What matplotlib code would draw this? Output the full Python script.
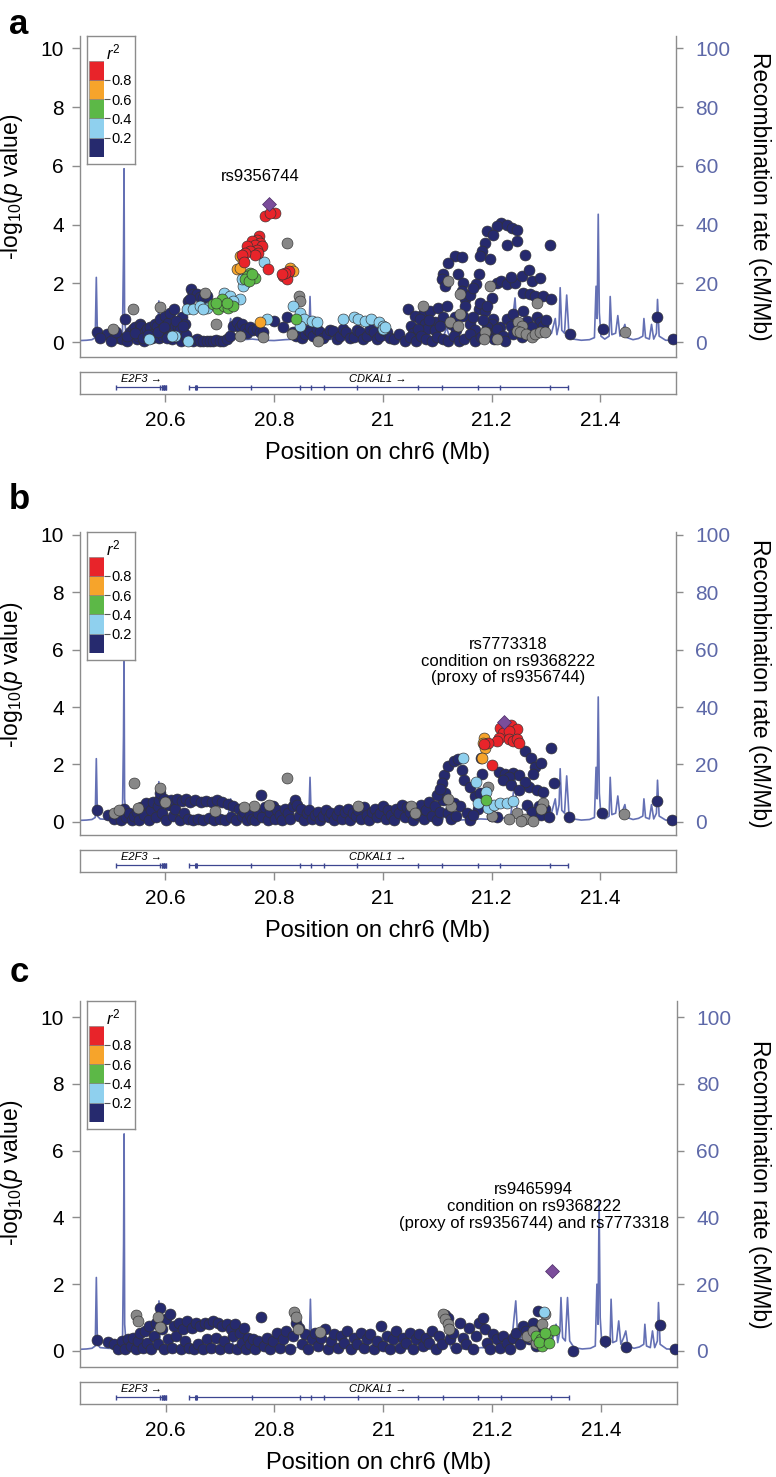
import matplotlib
matplotlib.use('Agg')
import matplotlib.pyplot as plt

W, H = 776, 1477
plt.rcParams['font.family'] = ['Liberation Sans', 'DejaVu Sans']
plt.rcParams['mathtext.fontset'] = 'custom'
plt.rcParams['mathtext.rm'] = 'Liberation Sans'
plt.rcParams['mathtext.it'] = 'Liberation Sans:italic'

XLIM = (20.443, 21.539)
x_ticks = [20.6, 20.8, 21.0, 21.2, 21.4]
x_tick_labels = ['20.6', '20.8', '21', '21.2', '21.4']
p_ticks = [0, 2, 4, 6, 8, 10]
rec_ticks = [0, 20, 40, 60, 80, 100]

r2_bins = [0.0, 0.2, 0.4, 0.6, 0.8, 1.0]
r2_colors = ['#262a6e', '#8fd0ee', '#5cb847', '#f6a42b', '#e8242a']
grey_col = '#878787'
index_col = '#7b4d9b'
rec_col = '#6470b4'
gene_col = '#3d4690'

# recombination rate (cM/Mb)
rec_pos = [20.443, 20.455, 20.465, 20.471, 20.473, 20.475, 20.480, 20.495, 20.510, 20.521,
           20.523, 20.524, 20.525, 20.528, 20.540, 20.555, 20.570, 20.580, 20.586, 20.588,
           20.590, 20.600, 20.615, 20.630, 20.645, 20.660, 20.680, 20.700, 20.715, 20.720,
           20.724, 20.740, 20.760, 20.780, 20.800, 20.820, 20.840, 20.855, 20.864, 20.866,
           20.868, 20.880, 20.900, 20.920, 20.940, 20.960, 20.980, 21.000, 21.020, 21.026,
           21.032, 21.050, 21.070, 21.090, 21.110, 21.117, 21.124, 21.140, 21.160, 21.180,
           21.200, 21.220, 21.235, 21.243, 21.247, 21.260, 21.270, 21.275, 21.280, 21.290,
           21.300, 21.310, 21.317, 21.320, 21.324, 21.326, 21.329, 21.334, 21.338, 21.342,
           21.350, 21.365, 21.380, 21.389, 21.392, 21.394, 21.396, 21.398, 21.401, 21.408,
           21.416, 21.418, 21.421, 21.428, 21.432, 21.436, 21.441, 21.445, 21.449, 21.460,
           21.470, 21.478, 21.480, 21.483, 21.490, 21.494, 21.498, 21.503, 21.505, 21.508,
           21.520, 21.539]
rec_rate_ab = [0.5, 0.6, 0.8, 1.5, 22, 2.0, 1.0, 0.8, 0.7, 1.5,
               30, 59, 8, 1.2, 0.6, 0.5, 0.8, 1.0, 3, 14,
               2, 0.8, 0.5, 0.6, 0.5, 0.8, 1.0, 1.2, 1.5, 8,
               1.5, 0.8, 1.0, 0.6, 0.5, 0.8, 1.0, 1.5, 3, 15.5,
               3, 1.2, 0.8, 1.5, 2.0, 1.2, 0.8, 0.6, 0.8, 4,
               0.8, 0.5, 0.6, 0.5, 0.8, 5, 0.8, 0.6, 0.8, 1.0,
               0.8, 1.2, 2.0, 15, 3, 5, 2, 6, 2.5, 4,
               1.5, 3, 8, 2.5, 6, 18.5, 4, 3, 16, 3,
               1.0, 0.6, 0.8, 1.5, 19, 8, 43.5, 10, 2, 1.0,
               2, 15.5, 2.5, 3, 9, 2, 4, 6, 1.5, 0.8,
               1.2, 2, 8, 1.5, 1.0, 6, 1.0, 3, 14.5, 2,
               0.6, 0.5]
rec_rate_c = [0.5, 0.6, 0.8, 1.5, 22, 2.0, 1.0, 0.8, 0.7, 1.5,
              32, 65, 8, 1.2, 0.6, 0.5, 0.8, 1.0, 3, 15,
              2, 0.8, 0.5, 0.6, 0.5, 0.8, 1.0, 1.2, 1.5, 8,
              1.5, 0.8, 1.0, 0.6, 0.5, 0.8, 1.0, 1.5, 3, 15.5,
              3, 1.2, 0.8, 1.5, 2.0, 1.2, 0.8, 0.6, 0.8, 4,
              0.8, 0.5, 0.6, 0.5, 0.8, 5, 0.8, 0.6, 0.8, 1.0,
              0.8, 1.2, 2.0, 15, 3, 5, 2, 6, 2.5, 4,
              1.5, 3, 8, 2.5, 6, 16, 4, 3, 16, 3,
              1.0, 0.6, 0.8, 1.5, 20, 8, 45, 10, 2, 1.0,
              2, 15.5, 2.5, 3, 9, 2, 4, 6, 1.5, 0.8,
              1.2, 2, 8, 1.5, 1.0, 6, 1.0, 3, 14.5, 2,
              0.6, 0.5]

# genes
genes = ['E2F3', 'CDKAL1']
gene_start = [20.510, 20.643]
gene_end = [20.601, 21.340]
gene_label_x = [20.556, 20.990]
e2f3_exons = [20.510, 20.590, 20.594, 20.598, 20.601]
cdkal1_exons = [20.643, 20.656, 20.758, 20.847, 20.867, 20.891, 20.953, 21.064,
                21.109, 21.174, 21.216, 21.308, 21.340]

# ---------------- panel a -----------------
a_navy = [(20.475, 0.33), (20.492, 0.28), (20.507, 0.22), (20.515, 0.15), (20.520, 0.10),
          (20.526, 0.78), (20.529, 0.05), (20.535, 0.33), (20.540, 0.45), (20.544, 0.50),
          (20.548, 0.10), (20.550, 0.21), (20.553, 0.60), (20.556, 0.55), (20.560, 0.05),
          (20.563, 0.33), (20.566, 0.45), (20.572, 0.50), (20.575, 0.12), (20.578, 0.27),
          (20.581, 0.60), (20.584, 0.55), (20.588, 0.15), (20.590, 0.78), (20.593, 0.44),
          (20.596, 0.20), (20.599, 0.89), (20.602, 0.33), (20.605, 0.65), (20.609, 1.00),
          (20.612, 0.10), (20.615, 1.12), (20.618, 0.55), (20.621, 0.30), (20.624, 0.50),
          (20.628, 0.05), (20.630, 0.84), (20.633, 0.33), (20.636, 0.60), (20.640, 0.10),
          (20.480, 0.15), (20.500, 0.05), (20.510, 0.35), (20.530, 0.20), (20.545, 0.30),
          (20.558, 0.15), (20.568, 0.25), (20.586, 0.35), (20.597, 0.50), (20.607, 0.20),
          (20.620, 0.70), (20.626, 0.40), (20.638, 0.25), (20.632, 0.55), (20.603, 0.12),
          (20.648, 1.80), (20.651, 1.63), (20.642, 1.40), (20.658, 1.63), (20.664, 1.55),
          (20.670, 1.50), (20.676, 1.58), (20.645, 1.45),
          (20.650, 0.05), (20.658, 0.10), (20.664, 0.045), (20.670, 0.05), (20.676, 0.045),
          (20.682, 0.05), (20.688, 0.045), (20.694, 0.06), (20.700, 0.045), (20.706, 0.05),
          (20.713, 0.10), (20.719, 0.21), (20.725, 0.55), (20.731, 0.67), (20.737, 0.50),
          (20.740, 0.61), (20.746, 0.44), (20.750, 0.30), (20.756, 0.50), (20.762, 0.40),
          (20.768, 0.44), (20.774, 0.35), (20.780, 0.33), (20.799, 0.72), (20.823, 0.84),
          (20.817, 0.50), (20.835, 0.33), (20.841, 0.21), (20.848, 0.38), (20.852, 0.15),
          (20.857, 0.27), (20.862, 0.40), (20.866, 0.33), (20.872, 0.21), (20.878, 0.45),
          (20.884, 0.33), (20.890, 0.15), (20.897, 0.27), (20.903, 0.40), (20.909, 0.38),
          (20.915, 0.10), (20.921, 0.21), (20.927, 0.45), (20.933, 0.33), (20.940, 0.15),
          (20.946, 0.16), (20.952, 0.40), (20.958, 0.33), (20.964, 0.10), (20.970, 0.21),
          (20.976, 0.45), (20.983, 0.33), (20.989, 0.10), (20.995, 0.21), (21.001, 0.40),
          (21.007, 0.33), (21.013, 0.15),
          (21.218, 4.06), (21.209, 3.94), (21.228, 4.00), (21.237, 3.88), (21.246, 3.83),
          (21.191, 3.77), (21.203, 3.66), (21.188, 3.38), (21.228, 3.32), (21.246, 3.44),
          (21.182, 3.10), (21.197, 2.81), (21.179, 2.93), (21.261, 2.95), (21.307, 3.32),
          (21.133, 2.93), (21.145, 2.90), (21.120, 2.70), (21.111, 2.30), (21.108, 2.14),
          (21.114, 1.91), (21.139, 2.30), (21.148, 2.02), (21.145, 1.74), (21.151, 1.46),
          (21.176, 2.30), (21.172, 1.97), (21.209, 2.02), (21.218, 2.08), (21.228, 1.97),
          (21.243, 2.02), (21.274, 2.08), (21.289, 2.19), (21.258, 1.68), (21.270, 1.63),
          (21.280, 1.57), (21.295, 1.57), (21.310, 1.46), (21.200, 1.51), (21.176, 1.12),
          (21.188, 1.06), (21.179, 1.34), (21.191, 1.23), (21.203, 0.78), (21.074, 0.95),
          (21.087, 1.06), (21.102, 1.17), (21.117, 1.23), (21.047, 1.12), (21.059, 0.89),
          (21.068, 0.78), (21.077, 0.61), (21.096, 0.67), (21.052, 0.55), (21.081, 0.44),
          (21.111, 0.84), (21.133, 0.84), (21.148, 0.89), (21.151, 1.23), (21.200, 0.61),
          (21.191, 0.50), (21.206, 0.33), (21.215, 0.50), (21.228, 0.78), (21.240, 0.95),
          (21.258, 1.06), (21.284, 0.84), (21.289, 0.67), (21.295, 0.55), (21.344, 0.27),
          (21.405, 0.44), (21.504, 0.84), (21.533, 0.10),
          (21.055, 0.30), (21.065, 0.45), (21.085, 0.75), (21.095, 0.40), (21.105, 0.55),
          (21.125, 0.60), (21.135, 0.40), (21.160, 0.60), (21.165, 0.85), (21.170, 0.40),
          (21.185, 0.75), (21.210, 0.45), (21.220, 0.20), (21.235, 0.55), (21.250, 0.45),
          (21.265, 0.70), (21.275, 0.50), (21.300, 0.75), (21.160, 1.60), (21.165, 1.85),
          (21.235, 2.20), (21.255, 2.25), (21.268, 2.45),
          (21.020, 0.10), (21.030, 0.27), (21.040, 0.05), (21.050, 0.16), (21.060, 0.05),
          (21.070, 0.21), (21.080, 0.10), (21.090, 0.05), (21.100, 0.16), (21.110, 0.10),
          (21.120, 0.05), (21.130, 0.21), (21.140, 0.05), (21.150, 0.10), (21.160, 0.27),
          (21.170, 0.05), (21.180, 0.16), (21.190, 0.33), (21.205, 0.10), (21.225, 0.05),
          (21.240, 0.27), (21.255, 0.16)]
a_grey = [(20.541, 1.12), (20.590, 1.20), (20.673, 1.68), (20.694, 0.61), (20.845, 1.57),
          (20.848, 1.40), (20.832, 0.27), (20.881, 0.045), (20.779, 0.16), (20.737, 0.21),
          (20.824, 3.38), (20.504, 0.44), (21.197, 1.91), (21.142, 1.63), (21.123, 0.67),
          (21.142, 0.95), (21.139, 0.55), (21.188, 0.33), (21.186, 0.10), (21.209, 0.10),
          (21.249, 0.67), (21.255, 0.55), (21.246, 0.38), (21.252, 0.33), (21.264, 0.27),
          (21.274, 0.16), (21.280, 0.27), (21.289, 0.33), (21.298, 0.35), (21.445, 0.35),
          (21.120, 2.08), (21.283, 1.34), (21.074, 1.23)]
a_lblue = [(20.781, 2.72), (20.746, 2.02), (20.742, 1.91), (20.740, 2.14), (20.639, 1.12),
           (20.651, 1.12), (20.664, 1.23), (20.676, 1.17), (20.670, 1.12), (20.707, 1.68),
           (20.719, 1.57), (20.737, 1.46), (20.725, 1.40), (20.618, 0.21), (20.569, 0.10),
           (20.642, 0.045), (20.612, 0.21), (20.835, 1.23), (20.848, 1.00), (20.854, 0.78),
           (20.869, 0.72), (20.878, 0.67), (20.786, 0.78), (20.848, 0.55), (20.926, 0.78),
           (20.946, 0.84), (20.955, 0.78), (20.967, 0.72), (20.979, 0.78), (20.992, 0.67),
           (21.001, 0.55), (21.000, 0.44), (21.003, 0.50)]
a_green = [(20.756, 2.36), (20.750, 2.25), (20.765, 2.19), (20.746, 2.14), (20.753, 2.08),
           (20.759, 2.30), (20.688, 1.29), (20.697, 1.12), (20.707, 1.23), (20.716, 1.17),
           (20.725, 1.23), (20.704, 1.46), (20.694, 1.34), (20.713, 1.34), (20.840, 0.78)]
a_orange = [(20.737, 2.93), (20.742, 2.76), (20.731, 2.47), (20.737, 2.53), (20.774, 0.67),
            (20.829, 2.53), (20.835, 2.42), (20.826, 2.36)]
a_red = [(20.783, 4.28), (20.801, 4.40), (20.792, 4.40), (20.773, 3.60), (20.768, 3.49),
         (20.759, 3.43), (20.774, 3.38), (20.765, 3.32), (20.750, 3.27), (20.777, 3.27),
         (20.768, 3.15), (20.756, 3.10), (20.771, 3.04), (20.765, 2.98), (20.746, 3.04),
         (20.740, 2.98), (20.745, 2.72), (20.788, 2.50), (20.817, 2.25), (20.823, 2.14),
         (20.828, 2.42), (20.820, 2.36), (20.814, 2.30)]
a_index = (20.791, 4.70)
a_label = 'rs9356744'
a_label_xy = (20.774, 5.64)

# ---------------- panel b -----------------
b_navy = [(20.475, 0.41), (20.494, 0.23), (20.505, 0.10), (20.512, 0.30), (20.518, 0.05),
          (20.524, 0.43), (20.528, 0.15), (20.533, 0.30), (20.538, 0.05), (20.543, 0.20),
          (20.548, 0.35), (20.552, 0.08), (20.556, 0.50), (20.560, 0.25), (20.565, 0.65),
          (20.569, 0.05), (20.573, 0.40), (20.578, 0.70), (20.582, 0.15), (20.586, 0.55),
          (20.588, 0.77), (20.591, 1.00), (20.594, 0.30), (20.598, 0.80), (20.602, 0.05),
          (20.606, 0.60), (20.610, 0.75), (20.614, 0.20), (20.618, 0.45), (20.622, 0.78),
          (20.626, 0.05), (20.630, 0.72), (20.634, 0.30), (20.638, 0.78), (20.642, 0.10),
          (20.646, 0.70), (20.650, 0.05), (20.655, 0.75), (20.660, 0.10), (20.665, 0.70),
          (20.670, 0.05), (20.675, 0.72), (20.680, 0.12), (20.685, 0.68), (20.690, 0.05),
          (20.695, 0.75), (20.700, 0.10), (20.705, 0.70), (20.710, 0.05), (20.715, 0.62),
          (20.720, 0.15), (20.725, 0.55), (20.730, 0.05), (20.735, 0.45), (20.740, 0.20),
          (20.745, 0.35), (20.750, 0.05), (20.755, 0.25), (20.760, 0.10), (20.765, 0.05),
          (20.770, 0.30), (20.775, 0.94), (20.778, 0.15), (20.783, 0.50), (20.788, 0.05),
          (20.792, 0.35), (20.797, 0.55), (20.802, 0.10), (20.806, 0.40), (20.811, 0.25),
          (20.815, 0.05), (20.820, 0.45), (20.825, 0.30), (20.830, 0.10), (20.835, 0.55),
          (20.838, 0.77), (20.842, 0.60), (20.846, 0.20), (20.850, 0.45), (20.855, 0.05),
          (20.860, 0.30), (20.865, 0.40), (20.870, 0.10), (20.875, 0.25), (20.880, 0.35),
          (20.885, 0.05), (20.890, 0.20), (20.895, 0.40), (20.900, 0.15), (20.905, 0.30),
          (20.910, 0.05), (20.915, 0.25), (20.920, 0.40), (20.925, 0.10), (20.930, 0.35),
          (20.935, 0.45), (20.940, 0.05), (20.945, 0.30), (20.950, 0.20), (20.955, 0.40),
          (20.960, 0.10), (20.965, 0.50), (20.970, 0.25), (20.975, 0.05), (20.980, 0.35),
          (20.985, 0.45), (20.990, 0.15), (20.995, 0.30), (21.000, 0.55), (21.005, 0.10),
          (21.010, 0.40), (21.015, 0.25), (21.020, 0.05), (21.025, 0.45), (21.030, 0.30),
          (21.035, 0.60), (21.040, 0.15), (21.045, 0.50), (21.050, 0.35), (21.055, 0.05),
          (21.060, 0.45), (21.065, 0.25), (21.070, 0.60), (21.075, 0.10), (21.080, 0.40),
          (21.085, 0.70), (21.090, 0.20), (21.095, 0.55), (21.100, 0.05), (21.105, 0.35),
          (21.110, 0.75),
          (21.112, 1.62), (21.108, 1.34), (21.119, 1.96), (21.131, 2.13), (21.138, 2.19),
          (21.145, 1.79), (21.149, 1.45), (21.115, 1.00), (21.131, 0.66), (21.142, 0.54),
          (21.154, 0.32), (21.180, 2.24), (21.183, 1.68), (21.175, 0.43), (21.213, 1.73),
          (21.224, 1.68), (21.239, 1.70), (21.250, 1.62), (21.231, 1.56), (21.220, 1.45),
          (21.261, 2.47), (21.272, 2.24), (21.280, 1.90), (21.291, 2.05), (21.310, 2.58),
          (21.314, 1.34), (21.276, 1.68), (21.269, 1.22), (21.284, 1.11), (21.295, 1.05),
          (21.287, 0.54), (21.299, 0.43), (21.343, 0.15), (21.403, 0.29), (21.504, 0.71),
          (21.532, 0.07), (21.261, 1.39), (21.235, 1.28), (21.250, 1.11), (21.120, 0.30),
          (21.125, 0.10), (21.135, 0.20), (21.160, 0.05), (21.165, 0.25), (21.170, 0.90),
          (21.178, 1.00), (21.200, 0.20), (21.210, 0.15), (21.265, 0.60), (21.275, 0.35),
          (21.290, 0.25), (21.305, 0.15), (21.160, 1.20), (21.100, 0.95), (21.105, 1.15)]
b_grey = [(20.543, 1.34), (20.505, 0.30), (20.515, 0.40), (20.591, 1.17), (20.550, 0.49),
          (20.823, 1.54), (20.763, 0.54), (20.692, 0.37), (20.600, 0.70), (20.745, 0.50),
          (20.790, 0.60), (20.955, 0.55), (21.052, 0.54), (21.059, 0.32), (21.126, 0.54),
          (21.120, 0.80), (21.194, 1.22), (21.246, 0.32), (21.261, 0.09), (21.276, 0.03),
          (21.295, 0.66), (21.291, 0.43), (21.254, 0.03), (21.231, 0.11), (21.201, 0.20),
          (21.444, 0.26)]
b_lblue = [(21.147, 2.21), (21.171, 1.39), (21.190, 1.05), (21.175, 0.66), (21.194, 0.49),
           (21.205, 0.60), (21.216, 0.66), (21.228, 0.66), (21.239, 0.71)]
b_green = [(21.190, 0.77)]
b_orange = [(21.186, 2.92), (21.187, 2.58), (21.183, 2.24), (21.184, 2.75)]
b_red = [(21.216, 3.26), (21.228, 3.32), (21.235, 3.37), (21.246, 3.24), (21.220, 3.09),
         (21.231, 3.15), (21.213, 2.92), (21.209, 2.81), (21.194, 2.75), (21.186, 2.70),
         (21.231, 2.87), (21.239, 2.81), (21.246, 2.87), (21.250, 2.75), (21.201, 1.98)]
b_index = (21.222, 3.49)
b_label = 'rs7773318\ncondition on rs9368222\n(proxy of rs9356744)'
b_label_xy = (21.231, 5.60)

# ---------------- panel c -----------------
c_navy = [(20.475, 0.32), (20.494, 0.28), (20.505, 0.20), (20.512, 0.05), (20.520, 0.30),
          (20.526, 0.05), (20.531, 0.35), (20.536, 0.15), (20.541, 0.40), (20.545, 0.05),
          (20.550, 0.30), (20.554, 0.55), (20.558, 0.10), (20.562, 0.60), (20.566, 0.25),
          (20.570, 0.75), (20.574, 0.05), (20.578, 0.45), (20.582, 0.85), (20.586, 0.20),
          (20.590, 1.30), (20.593, 0.65), (20.597, 0.05), (20.600, 0.95), (20.604, 0.35),
          (20.608, 1.12), (20.612, 0.10), (20.616, 0.75), (20.620, 0.45), (20.624, 0.85),
          (20.628, 0.05), (20.632, 0.65), (20.636, 0.30), (20.640, 0.90), (20.644, 0.10),
          (20.648, 0.70), (20.652, 0.05), (20.656, 0.85), (20.660, 0.20), (20.664, 0.75),
          (20.668, 0.05), (20.672, 0.85), (20.676, 0.35), (20.680, 0.80), (20.684, 0.10),
          (20.688, 0.90), (20.692, 0.40), (20.696, 0.85), (20.700, 0.05), (20.704, 0.75),
          (20.708, 0.30), (20.712, 0.80), (20.716, 0.10), (20.720, 0.65), (20.724, 0.45),
          (20.728, 0.80), (20.732, 0.05), (20.736, 0.55), (20.740, 0.25), (20.744, 0.70),
          (20.748, 0.05), (20.752, 0.40), (20.756, 0.20), (20.760, 0.35), (20.765, 0.05),
          (20.770, 0.30), (20.776, 1.02), (20.780, 0.15), (20.786, 0.40), (20.792, 0.05),
          (20.798, 0.30), (20.804, 0.55), (20.810, 0.10), (20.816, 0.35), (20.822, 0.60),
          (20.828, 0.05), (20.834, 0.45), (20.840, 0.85), (20.845, 0.70), (20.850, 0.20),
          (20.856, 0.50), (20.862, 0.05), (20.868, 0.35), (20.874, 0.55), (20.880, 0.15),
          (20.886, 0.40), (20.892, 0.65), (20.898, 0.05), (20.904, 0.30), (20.910, 0.50),
          (20.916, 0.10), (20.922, 0.45), (20.928, 0.25), (20.934, 0.60), (20.940, 0.05),
          (20.946, 0.40), (20.952, 0.20), (20.958, 0.55), (20.964, 0.10), (20.970, 0.35),
          (20.976, 0.50), (20.982, 0.05), (20.988, 0.30), (20.995, 0.75), (21.000, 0.15),
          (21.006, 0.45), (21.012, 0.05), (21.018, 0.35), (21.024, 0.60), (21.030, 0.10),
          (21.036, 0.40), (21.042, 0.25), (21.048, 0.55), (21.054, 0.05), (21.060, 0.35),
          (21.066, 0.50), (21.072, 0.15), (21.078, 0.40), (21.084, 0.25), (21.090, 0.60),
          (21.096, 0.05), (21.102, 0.45), (21.108, 0.20), (21.114, 1.08), (21.118, 1.00),
          (21.122, 0.35), (21.128, 0.55), (21.134, 0.10), (21.140, 0.85), (21.146, 0.40),
          (21.152, 0.20), (21.158, 0.70), (21.164, 0.05), (21.170, 0.45), (21.176, 0.85),
          (21.182, 1.00), (21.186, 0.65), (21.190, 0.25), (21.196, 0.05), (21.202, 0.50),
          (21.208, 0.35), (21.214, 0.10), (21.220, 0.45), (21.226, 0.25), (21.232, 0.05),
          (21.238, 0.40), (21.244, 0.55), (21.250, 0.20), (21.256, 0.75), (21.262, 0.60),
          (21.268, 0.35), (21.274, 0.85), (21.280, 0.15), (21.283, 1.20), (21.287, 0.70),
          (21.348, 0.0), (21.407, 0.30), (21.446, 0.13), (21.508, 0.79), (21.535, 0.05)]
c_grey = [(20.546, 1.07), (20.549, 0.91), (20.587, 1.02), (20.590, 0.71), (20.835, 1.17),
          (20.839, 1.02), (20.843, 0.66), (20.884, 0.56), (21.110, 1.12), (21.114, 0.96),
          (21.118, 0.81), (21.121, 0.66), (21.296, 1.12), (21.292, 0.81), (21.270, 0.41),
          (21.281, 0.25), (21.263, 0.46), (21.275, 0.60)]
c_lblue = [(21.294, 1.17)]
c_green = [(21.281, 0.45), (21.289, 0.35), (21.300, 0.50), (21.313, 0.62), (21.292, 0.15),
           (21.285, 0.28), (21.304, 0.25), (21.296, 0.55)]
c_orange = []
c_red = []
c_index = (21.309, 2.39)
c_label = 'rs9465994\ncondition on rs9368222\n(proxy of rs9356744) and rs7773318'
c_label_xy = (21.276, 4.33)

fig = plt.figure(figsize=(W / 100, H / 100), dpi=100)


def add_ax(x0, y0, x1, y1):
    return fig.add_axes([x0 / W, 1 - y1 / H, (x1 - x0) / W, (y1 - y0) / H])


def draw_panel(letter, top, bottom, right, ylim, rec_rate, groups, index_pt, label, label_xy,
               letter_y):
    left = 80
    ax = add_ax(left, top, right, bottom)
    ax2 = ax.twinx()
    ax.set_zorder(ax2.get_zorder() + 1)
    ax.patch.set_visible(False)

    ax2.plot(rec_pos, rec_rate, color=rec_col, lw=1.2)
    ax2.set_ylim(ylim[0] * 10, ylim[1] * 10)
    ax2.set_yticks(rec_ticks)
    ax2.tick_params(axis='y', colors='#8c8c8c', labelcolor='#5d68a8', labelsize=15,
                    length=5, width=1, pad=9)
    ax2.set_ylabel('Recombination rate (cM/Mb)', fontsize=16.5, rotation=270, va='center')
    ax2.yaxis.set_label_coords((760 - left) / (right - left), 0.5)

    for (pts, col) in groups:
        if pts:
            xs = [p[0] for p in pts]
            ys = [p[1] for p in pts]
            ax.scatter(xs, ys, s=62, c=col, edgecolors='#333333', linewidths=0.45, zorder=3)
    ax.scatter([index_pt[0]], [index_pt[1]], marker='D', s=50, c=index_col,
               edgecolors='#4b2d66', linewidths=0.5, zorder=4)
    ax.text(label_xy[0], label_xy[1], label, ha='center', va='center', fontsize=12,
            linespacing=1.15)

    ax.set_xlim(XLIM)
    ax.set_ylim(ylim)
    ax.set_xticks([])
    ax.set_yticks(p_ticks)
    ax.tick_params(axis='y', colors='#8c8c8c', labelcolor='black', labelsize=15,
                   length=5.5, width=1, pad=6)
    ax.set_ylabel(r'-log$_{10}$($\mathit{p}$ value)', fontsize=16.5)
    ax.yaxis.set_label_coords((25 - left) / (right - left), 0.53)
    for a in (ax, ax2):
        a.spines['top'].set_visible(False)
        for s in ('left', 'right', 'bottom'):
            a.spines[s].set_color('#8c8c8c')
            a.spines[s].set_linewidth(1.0)
    ax2.spines['left'].set_visible(False)
    ax2.spines['bottom'].set_visible(False)
    ax.spines['right'].set_visible(False)

    # r2 legend
    box = add_ax(left + 6.7, top, left + 55, top + 128)
    box.set_xticks([])
    box.set_yticks([])
    for s in box.spines.values():
        s.set_color('#8c8c8c')
        s.set_linewidth(1.0)
    box.set_zorder(ax.get_zorder() + 1)
    box.text(0.55, 0.875, r'$\mathit{r}^2$', ha='center', va='center', fontsize=12)
    cb = add_ax(left + 9.3, top + 24.7, left + 24.3, top + 120.7)
    cb.set_zorder(box.get_zorder() + 1)
    cb.bar([0] * 5, [r2_bins[i + 1] - r2_bins[i] for i in range(5)], bottom=r2_bins[:-1],
           width=1, color=r2_colors, edgecolor='#7a7a7a', linewidth=0.4, align='edge')
    cb.set_xlim(0, 1)
    cb.set_ylim(0, 1)
    cb.set_xticks([])
    cb.yaxis.tick_right()
    cb.set_yticks(r2_bins[1:-1])
    cb.set_yticklabels(['0.2', '0.4', '0.6', '0.8'])
    cb.tick_params(axis='y', length=4, width=0.8, colors='#555555', labelcolor='black',
                   labelsize=10.5, pad=1)
    for s in cb.spines.values():
        s.set_visible(False)

    # gene track
    gt = bottom + 15
    gax = add_ax(left, gt, right, gt + 22)
    gax.set_xlim(XLIM)
    gax.set_ylim(0, 1)
    gax.set_yticks([])
    gax.set_xticks(x_ticks)
    gax.set_xticklabels(x_tick_labels)
    gax.tick_params(axis='x', colors='#8c8c8c', labelcolor='black', labelsize=15,
                    length=6, width=1, pad=6)
    for s in gax.spines.values():
        s.set_color('#8c8c8c')
        s.set_linewidth(1.0)
    gax.hlines([0.3, 0.3], gene_start, gene_end, color=gene_col, lw=0.9)
    gax.vlines(e2f3_exons + cdkal1_exons, 0.2, 0.4, color=gene_col, lw=1.0)
    gax.vlines([20.596, 20.599, 20.656], 0.17, 0.43, color=gene_col, lw=2.2)
    for g, gx in zip(genes, gene_label_x):
        gax.text(gx, 0.68, g + ' \u2192', ha='center', va='center', fontsize=8,
                 style='italic')
    gax.set_xlabel('Position on chr6 (Mb)', fontsize=17, labelpad=9)

    fig.text(19 / W, 1 - letter_y / H, letter, fontsize=25, fontweight='bold',
             ha='center', va='center')


draw_panel('a', 36, 357, 676, (-0.51, 10.42), rec_rate_ab,
           [(a_navy, r2_colors[0]), (a_grey, grey_col), (a_lblue, r2_colors[1]),
            (a_green, r2_colors[2]), (a_orange, r2_colors[3]), (a_red, r2_colors[4])],
           a_index, a_label, a_label_xy, 24)
draw_panel('b', 532, 835, 676, (-0.46, 10.10), rec_rate_ab,
           [(b_navy, r2_colors[0]), (b_grey, grey_col), (b_lblue, r2_colors[1]),
            (b_green, r2_colors[2]), (b_orange, r2_colors[3]), (b_red, r2_colors[4])],
           b_index, b_label, b_label_xy, 499)
draw_panel('c', 1001, 1367, 677, (-0.48, 10.48), rec_rate_c,
           [(c_navy, r2_colors[0]), (c_grey, grey_col), (c_lblue, r2_colors[1]),
            (c_green, r2_colors[2]), (c_orange, r2_colors[3]), (c_red, r2_colors[4])],
           c_index, c_label, c_label_xy, 972)

fig.savefig('out.png', dpi=100)
